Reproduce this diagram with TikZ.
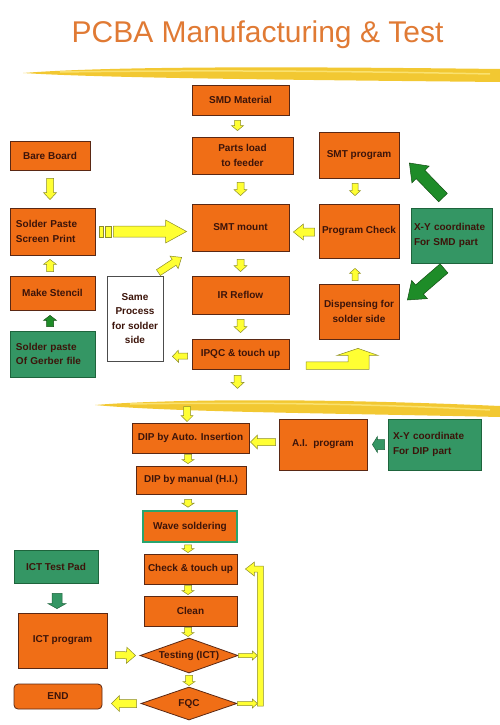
\documentclass[tikz,border=0pt]{standalone}
\usepackage{fontspec}
\setmainfont{Liberation Sans}
\usetikzlibrary{calc,shapes.geometric}
\hyphenpenalty=10000
\exhyphenpenalty=10000
\definecolor{orfill}{RGB}{240,110,22}
\definecolor{bord}{RGB}{90,40,20}
\definecolor{txt}{RGB}{60,20,10}
\definecolor{grn}{RGB}{52,150,100}
\definecolor{grnd}{RGB}{30,100,60}
\definecolor{yel}{RGB}{255,255,51}
\definecolor{yeld}{RGB}{140,140,40}
\definecolor{garf}{RGB}{30,140,40}
\definecolor{gard}{RGB}{20,80,20}
\definecolor{titlec}{RGB}{224,122,52}
\definecolor{brush}{RGB}{242,200,50}
\definecolor{brushl}{RGB}{250,225,110}
\definecolor{wgreen}{RGB}{40,165,110}
\newcommand\blkarrow[6][]{%
  \coordinate (bkS) at (#2);
  \coordinate (bkE) at (#3);
  \coordinate (bkH) at ($(bkE)!#6!(bkS)$);
  \draw[#1] ($(bkS)!#4!90:(bkE)$) -- ($(bkH)!#4!90:(bkE)$) -- ($(bkH)!#5!90:(bkE)$) -- (bkE) -- ($(bkH)!#5!-90:(bkE)$) -- ($(bkH)!#4!-90:(bkE)$) -- ($(bkS)!#4!-90:(bkE)$) -- cycle;}
\begin{document}
\begin{tikzpicture}[x=1pt,y=-1pt,
  every node/.style={font=\fontsize{10}{14.5}\selectfont\bfseries, text=txt},
  obox/.style={draw=bord, line width=0.8pt, fill=orfill, align=center, inner sep=1pt},
  gbox/.style={draw=grnd, line width=0.8pt, fill=grn, align=left, inner sep=1pt},
  wbox/.style={draw=black!70, line width=0.8pt, fill=white, align=center, inner sep=1pt},
  dia/.style={diamond, aspect=2.8, draw=bord, line width=0.8pt, fill=orfill, inner sep=0pt},
  yarr/.style={fill=yel, draw=yeld, line width=0.5pt, line join=miter},
  garr/.style={fill=garf, draw=gard, line width=0.5pt, line join=miter},
  tarr/.style={fill=grn, draw=grnd, line width=0.5pt, line join=miter}]
\useasboundingbox (0,0) rectangle (500,725);
% title and brush strokes
\node[font=\fontsize{30}{36}\selectfont, text=titlec, anchor=base] (title) at (257.5,43) {PCBA Manufacturing \& Test};
\fill[brush] (23,73) .. controls (100,67) and (250,66) .. (500,69) -- (500,82) .. controls (300,80) and (100,78) .. (23,73) -- cycle;
\draw[brushl, line width=1.5pt] (60,72) .. controls (200,70) and (350,71) .. (490,74);
\fill[brush] (95,405) .. controls (170,399) and (320,398) .. (500,406) -- (500,417) .. controls (320,413) and (170,412) .. (95,405) -- cycle;
\draw[brushl, line width=1.5pt] (130,404) .. controls (250,402) and (380,404) .. (490,410);
% SMT section
\node[obox, minimum width=97pt, minimum height=30pt] (smd) at (240.5,100) {SMD Material};
\node[obox, minimum width=101pt, minimum height=37pt] (parts) at (242.5,155.5) {Parts load\\to feeder};
\node[obox, minimum width=97pt, minimum height=47pt] (mount) at (240.5,227.5) {SMT mount};
\node[obox, minimum width=97pt, minimum height=38pt] (reflow) at (240.5,295) {IR Reflow};
\node[obox, minimum width=97pt, minimum height=30pt] (ipqc) at (240.5,354) {IPQC \& touch up};
\node[obox, minimum width=80pt, minimum height=29pt] (bare) at (50,155.5) {Bare Board};
\node[obox, align=left, inner xsep=6pt, text width=73pt, minimum height=47pt] (paste) at (52.5,231.5) {Solder Paste\\Screen Print};
\node[obox, minimum width=85pt, minimum height=34pt] (stencil) at (52.5,293) {Make Stencil};
\node[gbox, inner xsep=6pt, text width=73pt, minimum height=46pt] (gerber) at (52.5,354) {Solder paste\\Of Gerber file};
\node[wbox, minimum width=56pt, minimum height=85pt] (same) at (135,318.5) {Same\\Process\\for solder\\side};
\node[obox, minimum width=80pt, minimum height=46pt] (smtprog) at (359,155) {SMT program};
\node[obox, minimum width=80pt, minimum height=54pt] (check) at (359,231) {Program Check};
\node[gbox, inner xsep=3pt, text width=75pt, minimum height=55pt] (xysmd) at (451.5,235.5) {X-Y coordinate\\For SMD part};
\node[obox, minimum width=80pt, minimum height=55pt] (disp) at (359,311.5) {Dispensing for\\solder side};
% DIP section
\node[obox, minimum width=117pt, minimum height=30pt] (dipauto) at (190.5,438) {DIP by Auto. Insertion};
\node[obox, minimum width=88pt, minimum height=51pt] (aiprog) at (323,444.5) {A.I.\ \ program};
\node[gbox, inner xsep=5pt, text width=83pt, minimum height=51pt] (xydip) at (434.5,444.5) {X-Y coordinate\\For DIP part};
\node[obox, minimum width=110pt, minimum height=28pt] (dipman) at (191,480) {DIP by manual (H.I.)};
\node[obox, draw=wgreen, line width=1.6pt, minimum width=94pt, minimum height=31pt] (wave) at (190,526.5) {Wave soldering};
\node[gbox, align=center, minimum width=84pt, minimum height=33pt] (ictpad) at (56,566.5) {ICT Test Pad};
\node[obox, minimum width=89pt, minimum height=55pt] (ictprog) at (62.5,640.5) {ICT program};
\node[obox, rounded corners=4pt, minimum width=88pt, minimum height=25pt] (endn) at (58,696.5) {END};
\node[obox, minimum width=93pt, minimum height=30pt] (chk) at (190.5,569) {Check \& touch up};
\node[obox, minimum width=93pt, minimum height=30pt] (clean) at (190.5,611) {Clean};
\node[dia, minimum width=98pt, minimum height=35pt] (test) at (189,655.5) {Testing (ICT)};
\node[dia, minimum width=96pt, minimum height=33pt] (fqc) at (189,703.5) {FQC};
% SMT arrows
\blkarrow[yarr]{$(smd.south)+(-3,5)$}{$(parts.north)+(-5,-6)$}{3pt}{6pt}{5pt}
\blkarrow[yarr]{$(parts.south)+(-2,8)$}{$(mount.north)+(0,-8)$}{3.5pt}{6.5pt}{6pt}
\blkarrow[yarr]{$(mount.south)+(0,8)$}{$(reflow.north)+(0,-4)$}{3.5pt}{6.5pt}{6pt}
\blkarrow[yarr]{$(reflow.south)+(0,5)$}{$(ipqc.north)+(0,-6)$}{3.5pt}{6.5pt}{6pt}
\blkarrow[yarr]{$(ipqc.south)+(-3,6)$}{$(ipqc.south)+(-3,19)$}{3.5pt}{6.5pt}{6pt}
\blkarrow[yarr]{$(bare.south)+(0,8)$}{$(paste.north)+(-2.5,-8)$}{3.5pt}{6.5pt}{7pt}
\blkarrow[yarr]{$(stencil.north)+(-2.5,-4)$}{$(paste.south)+(-2.5,4)$}{3.5pt}{6.5pt}{5pt}
\blkarrow[garr]{$(gerber.north)+(-2.5,-4)$}{$(stencil.south)+(-2.5,5)$}{3.5pt}{6.5pt}{5pt}
\blkarrow[yarr]{$(paste.east)+(18,0)$}{$(mount.west)+(-5,4)$}{5.5pt}{11.5pt}{21pt}
\draw[yarr] ($(paste.east)+(4,-5.5)$) rectangle ($(paste.east)+(7.5,5.5)$);
\draw[yarr] ($(paste.east)+(10,-5.5)$) rectangle ($(paste.east)+(15.5,5.5)$);
\blkarrow[yarr]{$(same.north east)+(-5,-3)$}{$(mount.south west)+(-10,6)$}{3.5pt}{7.5pt}{9pt}
\blkarrow[yarr]{$(ipqc.west)+(-4,2)$}{$(same.south east)+(9,-5)$}{3pt}{6pt}{6pt}
\blkarrow[yarr]{$(check.west)+(-4,1)$}{$(mount.east)+(4,4.5)$}{4pt}{8pt}{10pt}
\blkarrow[yarr]{$(smtprog.south)+(-4,5)$}{$(check.north)+(-4,-8)$}{3pt}{5.5pt}{5pt}
\blkarrow[yarr]{$(disp.north)+(-4,-3)$}{$(check.south)+(-4,10)$}{3pt}{5.5pt}{5pt}
\blkarrow[garr]{$(xysmd.north)+(-8.5,-10)$}{$(smtprog.east)+(10,8)$}{6pt}{12pt}{16pt}
\blkarrow[garr]{$(xysmd.south)+(-7.5,5)$}{$(disp.east)+(8,-11.5)$}{6pt}{12pt}{16pt}
\draw[yarr, shift={(disp.south)}] (-53,22.5) -- (-11,22.5) -- (-11,16) -- (-22,16) -- (-1,9) -- (19,16) -- (10,16) -- (10,30) -- (-53,30) -- cycle;
% DIP arrows
\blkarrow[yarr]{$(dipauto.north)+(-3.5,-16)$}{$(dipauto.north)+(-3.5,-1)$}{3.5pt}{6pt}{6pt}
\blkarrow[yarr]{$(dipauto.south)+(-2.5,1)$}{$(dipman.north)+(-3,-2)$}{3.5pt}{6pt}{4pt}
\blkarrow[yarr]{$(dipman.south)+(-3,5)$}{$(wave.north)+(-2,-3)$}{3.5pt}{6pt}{4pt}
\blkarrow[yarr]{$(aiprog.west)+(-3,-2.5)$}{$(dipauto.east)+(1,4)$}{3.5pt}{7pt}{7pt}
\blkarrow[tarr]{$(xydip.west)+(-3,0)$}{$(aiprog.east)+(5,0)$}{5pt}{8pt}{5pt}
% test arrows
\blkarrow[yarr]{$(wave.south)+(-2,2)$}{$(chk.north)+(-2.5,-1)$}{3.5pt}{6pt}{4pt}
\blkarrow[yarr]{$(chk.south)+(-2.5,1)$}{$(clean.north)+(-2.5,-1)$}{3.5pt}{6pt}{4pt}
\blkarrow[yarr]{$(clean.south)+(-2.5,1)$}{$(test.north)+(-1,-1)$}{3.5pt}{6pt}{4pt}
\blkarrow[yarr]{$(test.south)+(0,2)$}{$(fqc.north)+(0,-1)$}{3.5pt}{6pt}{4pt}
\blkarrow[tarr]{$(ictpad.south)+(1,10)$}{$(ictprog.north)+(-5.5,-4)$}{5pt}{9pt}{5pt}
\blkarrow[yarr]{$(ictprog.east)+(8,14.5)$}{$(test.west)+(-4,0)$}{3.5pt}{8pt}{9pt}
\blkarrow[yarr]{$(fqc.west)+(-4,0)$}{$(endn.east)+(9,7)$}{4pt}{8pt}{8pt}
\coordinate (retT) at ($(chk.east)+(20,86.5)$);
\coordinate (retF) at ($(chk.east)+(20,134.5)$);
\blkarrow[yarr]{test.east}{retT}{2pt}{4.5pt}{5pt}
\blkarrow[yarr]{fqc.east}{retF}{2pt}{4.5pt}{5pt}
\draw[yarr, shift={(chk.east)}] (20,137) -- (20,3) -- (17,3) -- (17,7) -- (8,0) -- (17,-7) -- (17,-3) -- (26,-3) -- (26,137) -- cycle;
\end{tikzpicture}
\end{document}
